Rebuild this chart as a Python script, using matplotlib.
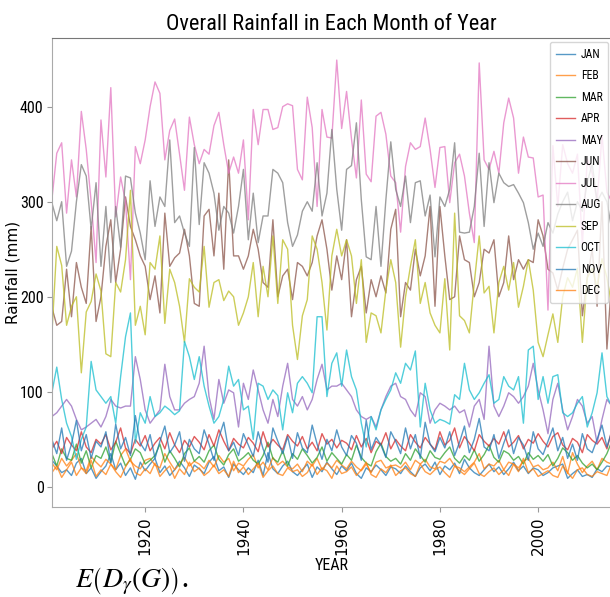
import matplotlib
matplotlib.use("Agg")
import matplotlib.pyplot as plt
from matplotlib import font_manager

years = list(range(1901, 2016))

JAN = [28, 22, 15, 18, 12, 25, 30, 14, 20, 9,
       16, 22, 35, 18, 25, 12, 20, 8, 26, 17,
       24, 30, 15, 22, 12, 18, 27, 20, 11, 23,
       19, 14, 26, 32, 17, 21, 10, 24, 18, 13,
       20, 15, 28, 12, 36, 19, 14, 22, 27, 16,
       12, 18, 24, 10, 21, 16, 26, 19, 13, 22,
       17, 25, 14, 9, 20, 16, 23, 18, 12, 21,
       19, 14, 22, 16, 11, 20, 24, 17, 26, 13,
       22, 18, 25, 14, 29, 20, 15, 12, 18, 24,
       16, 21, 13, 19, 26, 17, 22, 14, 20, 18,
       12, 15, 20, 22, 24, 9, 14, 18, 11, 13,
       10, 19, 16, 22, 21]
FEB = [25, 18, 30, 22, 28, 35, 20, 17, 32, 26,
       21, 29, 24, 18, 33, 40, 27, 22, 19, 28,
       30, 23, 20, 35, 26, 18, 24, 31, 22, 27,
       24, 19, 28, 21, 33, 26, 30, 17, 25, 22,
       29, 34, 20, 26, 18, 31, 23, 27, 21, 19,
       24, 16, 27, 22, 30, 18, 25, 20, 28, 23,
       19, 27, 21, 17, 24, 15, 26, 28, 20, 22,
       23, 20, 26, 18, 28, 24, 29, 21, 19, 27,
       25, 30, 22, 20, 16, 21, 26, 35, 19, 24,
       22, 28, 18, 26, 24, 20, 27, 30, 21, 23,
       18, 20, 26, 17, 32, 14, 36, 24, 15, 22,
       27, 18, 30, 26, 24]
MAR = [35, 22, 40, 30, 28, 45, 25, 38, 20, 33,
       30, 42, 26, 48, 35, 22, 29, 40, 36, 24,
       28, 33, 45, 26, 38, 30, 21, 35, 41, 27,
       32, 26, 38, 44, 29, 23, 34, 40, 27, 31,
       36, 28, 24, 33, 47, 30, 26, 38, 22, 35,
       29, 40, 33, 25, 31, 42, 27, 36, 30, 24,
       34, 28, 44, 31, 25, 22, 37, 46, 32, 27,
       30, 24, 35, 28, 40, 33, 26, 38, 31, 29,
       36, 42, 30, 25, 33, 28, 39, 27, 34, 44,
       31, 26, 38, 35, 28, 32, 24, 36, 29, 33,
       27, 34, 22, 30, 41, 36, 28, 33, 25, 20,
       24, 18, 26, 35, 48]
APR = [40, 48, 35, 52, 44, 38, 58, 42, 36, 50,
       45, 55, 39, 47, 62, 41, 35, 50, 43, 54,
       38, 46, 52, 40, 57, 44, 36, 49, 42, 53,
       47, 39, 55, 43, 60, 48, 38, 51, 45, 41,
       52, 46, 37, 58, 42, 50, 44, 39, 55, 48,
       43, 53, 40, 47, 38, 56, 45, 50, 41, 49,
       46, 39, 54, 42, 51, 36, 48, 44, 57, 40,
       50, 43, 38, 55, 47, 41, 52, 45, 39, 58,
       44, 49, 62, 41, 53, 46, 38, 55, 48, 43,
       51, 45, 58, 42, 47, 54, 40, 50, 46, 56,
       48, 42, 53, 57, 44, 39, 51, 47, 36, 55,
       49, 45, 52, 40, 60]
MAY = [74, 78, 85, 92, 85, 71, 60, 63, 67, 71,
       63, 74, 92, 85, 83, 85, 85, 137, 113, 81,
       67, 74, 81, 129, 95, 81, 81, 88, 92, 95,
       109, 148, 95, 71, 113, 88, 102, 99, 63, 109,
       92, 123, 102, 81, 67, 92, 74, 106, 130, 92,
       85, 95, 81, 92, 113, 129, 102, 106, 106, 109,
       102, 95, 81, 74, 71, 74, 63, 81, 95, 106,
       109, 95, 92, 81, 74, 99, 95, 67, 81, 88,
       85, 81, 85, 78, 81, 63, 85, 92, 71, 148,
       85, 74, 85, 99, 95, 88, 95, 106, 130, 102,
       81, 56, 92, 109, 81, 60, 74, 92, 85, 67,
       74, 46, 71, 92, 85]
JUN = [189, 170, 174, 229, 179, 236, 210, 193, 274, 174,
       200, 253, 281, 215, 250, 305, 274, 260, 243, 232,
       197, 222, 183, 288, 232, 241, 246, 271, 243, 193,
       190, 285, 292, 243, 309, 229, 344, 243, 243, 229,
       243, 271, 250, 215, 210, 281, 200, 222, 229, 197,
       236, 232, 222, 236, 264, 281, 250, 207, 243, 218,
       260, 179, 218, 232, 183, 218, 200, 222, 204, 271,
       292, 179, 215, 207, 250, 222, 243, 295, 190, 295,
       243, 197, 200, 264, 239, 236, 200, 215, 250, 246,
       260, 200, 215, 264, 218, 239, 229, 239, 236, 281,
       264, 229, 225, 207, 230, 250, 260, 270, 180, 220,
       250, 190, 300, 145, 220]
JUL = [302, 351, 362, 288, 344, 305, 395, 355, 300, 236,
       386, 326, 420, 284, 326, 300, 218, 358, 340, 365,
       400, 426, 414, 344, 375, 387, 350, 312, 389, 360,
       340, 355, 350, 380, 394, 360, 330, 347, 330, 365,
       281, 397, 360, 397, 397, 376, 378, 400, 403, 401,
       334, 323, 410, 378, 295, 397, 368, 367, 449, 377,
       416, 366, 325, 407, 329, 321, 390, 394, 371, 327,
       320, 268, 337, 362, 355, 358, 388, 355, 315, 357,
       358, 299, 341, 350, 327, 288, 257, 446, 344, 334,
       353, 330, 383, 409, 388, 330, 368, 347, 346, 305,
       307, 186, 359, 295, 360, 340, 330, 350, 255, 345,
       330, 300, 370, 310, 300]
AUG = [299, 280, 300, 232, 248, 300, 339, 327, 271, 320,
       232, 295, 215, 295, 252, 327, 325, 288, 267, 239,
       322, 274, 305, 295, 365, 278, 285, 267, 253, 357,
       276, 341, 330, 309, 270, 295, 288, 267, 295, 334,
       260, 309, 257, 285, 285, 334, 330, 320, 278, 253,
       265, 290, 300, 290, 341, 285, 309, 376, 313, 270,
       334, 338, 383, 302, 242, 239, 295, 232, 302, 363,
       313, 295, 327, 278, 320, 322, 285, 307, 242, 305,
       295, 313, 362, 268, 267, 268, 295, 351, 274, 341,
       299, 330, 320, 316, 318, 309, 299, 278, 250, 267,
       253, 278, 267, 287, 300, 310, 280, 300, 290, 320,
       340, 300, 310, 300, 270]
SEP = [160, 253, 233, 170, 190, 200, 120, 184, 195, 224,
       206, 140, 137, 215, 205, 239, 312, 170, 190, 160,
       236, 229, 264, 172, 229, 215, 190, 152, 219, 210,
       205, 253, 189, 215, 218, 196, 206, 200, 170, 183,
       200, 236, 179, 232, 200, 264, 193, 260, 250, 170,
       134, 180, 197, 264, 250, 215, 165, 243, 271, 243,
       260, 243, 193, 239, 152, 183, 180, 162, 207, 239,
       215, 147, 200, 232, 260, 193, 215, 183, 170, 162,
       219, 144, 288, 180, 175, 162, 215, 264, 204, 211,
       162, 215, 232, 207, 236, 189, 211, 239, 207, 152,
       137, 160, 182, 152, 200, 220, 210, 230, 152, 220,
       230, 210, 240, 220, 190]
OCT = [99, 126, 92, 67, 53, 29, 50, 63, 132, 102,
       95, 88, 95, 67, 116, 158, 183, 46, 78, 67,
       95, 74, 78, 85, 81, 76, 80, 153, 137, 113,
       137, 106, 85, 67, 74, 92, 127, 106, 113, 81,
       85, 50, 109, 106, 92, 102, 96, 60, 99, 78,
       109, 116, 109, 99, 179, 179, 95, 130, 141, 106,
       144, 116, 102, 67, 42, 74, 60, 81, 92, 102,
       120, 109, 130, 123, 143, 63, 109, 81, 67, 71,
       69, 66, 97, 92, 130, 102, 92, 99, 109, 118,
       88, 92, 116, 106, 102, 116, 67, 144, 148, 92,
       116, 88, 116, 118, 78, 74, 78, 88, 95, 63,
       78, 99, 141, 95, 85]
NOV = [50, 35, 62, 28, 45, 70, 38, 55, 30, 48,
       42, 58, 25, 66, 40, 52, 33, 75, 46, 38,
       55, 30, 48, 64, 36, 44, 58, 27, 50, 40,
       35, 60, 45, 28, 52, 68, 38, 47, 33, 56,
       44, 32, 58, 40, 26, 62, 48, 35, 53, 30,
       57, 41, 36, 65, 45, 29, 50, 38, 60, 42,
       33, 54, 46, 28, 70, 39, 52, 44, 31, 58,
       48, 35, 62, 40, 55, 30, 68, 45, 37, 52,
       41, 58, 33, 47, 64, 36, 50, 72, 42, 38,
       55, 30, 46, 60, 35, 52, 44, 28, 58, 40,
       34, 48, 62, 38, 52, 30, 45, 28, 56, 40,
       36, 50, 65, 42, 58]
DEC = [15, 22, 10, 18, 26, 12, 20, 14, 28, 11,
       18, 13, 24, 16, 10, 21, 30, 15, 12, 19,
       14, 25, 11, 17, 22, 9, 19, 13, 26, 16,
       20, 12, 16, 23, 14, 18, 11, 27, 15, 21,
       13, 19, 25, 10, 17, 22, 14, 12, 20, 16,
       18, 11, 15, 24, 13, 20, 17, 9, 22, 14,
       16, 21, 12, 18, 26, 13, 10, 19, 15, 23,
       12, 17, 20, 14, 11, 24, 16, 13, 18, 21,
       15, 10, 22, 17, 13, 19, 25, 14, 11, 16,
       20, 13, 18, 12, 24, 16, 30, 15, 19, 11,
       14, 17, 12, 10, 22, 15, 9, 18, 20, 13,
       11, 16, 14, 12, 25]

month_names = ["JAN", "FEB", "MAR", "APR", "MAY", "JUN",
               "JUL", "AUG", "SEP", "OCT", "NOV", "DEC"]
series = [JAN, FEB, MAR, APR, MAY, JUN, JUL, AUG, SEP, OCT, NOV, DEC]
xticks = [1920, 1940, 1960, 1980, 2000]
yticks = [0, 100, 200, 300, 400]

# pick a narrow font that is installed
installed = {f.name for f in font_manager.fontManager.ttflist}
narrow = None
for cand in ['Roboto Condensed', 'Liberation Sans Narrow', 'Open Sans Condensed',
             'Roboto', 'Liberation Sans']:
    if cand in installed:
        narrow = cand
        break
cond = [narrow, 'DejaVu Sans'] if narrow else ['DejaVu Sans']

fig = plt.figure(figsize=(6.10, 5.97), dpi=100)
ax = fig.add_axes([0.085, 0.151, 0.918, 0.785])

colors = plt.rcParams['axes.prop_cycle'].by_key()['color']
for i, (name, vals) in enumerate(zip(month_names, series)):
    ax.plot(years, vals, color=colors[i % 10], lw=1.0, alpha=0.75, label=name)

ax.set_xlim(years[0], years[-1])
ax.set_ylim(-21, 472)
ax.set_xticks(xticks)
ax.set_xticklabels([str(t) for t in xticks], rotation=90, fontsize=11)
ax.set_yticks(yticks)
ax.set_yticklabels([str(t) for t in yticks], fontsize=11.5, family=cond)
ax.tick_params(axis='y', color='#999999', pad=2.5)
ax.tick_params(axis='x', color='#999999')
for s in ax.spines.values():
    s.set_color('#aaaaaa')
ax.spines['top'].set_color('#777777')

ax.set_title("Overall Rainfall in Each Month of Year", fontsize=16,
             family=cond, fontstretch='condensed', pad=6)
ax.set_xlabel("YEAR", fontsize=11.5, family=cond, fontstretch='condensed', labelpad=2)
ax.set_ylabel("Rainfall (mm)", fontsize=11)
ax.yaxis.set_label_coords(-0.056, 0.5)

leg = ax.legend(loc='upper right', prop={'family': cond, 'size': 8.5},
                handlelength=1.6, handletextpad=0.5, labelspacing=0.72,
                borderpad=0.5, borderaxespad=0.3,
                framealpha=0.8, edgecolor='#cccccc', fancybox=True)

fig.text(0.123, 0.0, r'$E\left(D_\gamma\left(G\right)\right)$.', fontsize=20,
         math_fontfamily='stix', family='serif', va='bottom')

fig.savefig("out.png", dpi=100)
